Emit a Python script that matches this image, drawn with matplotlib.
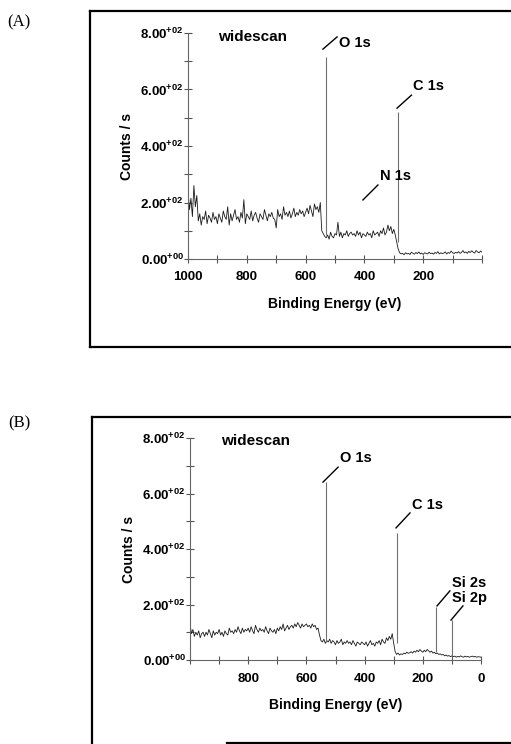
import numpy as np
import matplotlib
matplotlib.use("Agg")
import matplotlib.pyplot as plt
from matplotlib.ticker import MultipleLocator, FixedLocator, FuncFormatter
from matplotlib.lines import Line2D

plt.rcParams['font.family'] = ['Liberation Sans', 'DejaVu Sans']
plt.rcParams['mathtext.fontset'] = 'custom'
plt.rcParams['mathtext.bf'] = 'Liberation Sans:bold'
plt.rcParams['mathtext.rm'] = 'Liberation Sans'

# binding energy grid, 1000 -> 0 eV in 5 eV steps
be = np.arange(1000, -1, -5)

# panel A: widescan background counts
counts_a = [
    240, 175, 215, 150, 260, 185, 225,
    135, 160, 120, 150, 140, 170, 125, 155, 145, 130, 165, 140, 150, 125,
    160, 145, 130, 170, 150, 140, 185, 120, 160, 135, 155, 175, 140, 150, 130, 165, 145, 210, 125, 160,
    150, 140, 170, 135, 155, 165, 145, 130, 160, 150, 140, 175, 155, 135, 160, 150, 165, 145, 140, 110,
    175, 150, 160, 140, 185, 155, 165, 150, 170, 145, 160, 180, 150, 165, 155, 175, 160, 170, 150, 165,
    180, 160, 190, 170, 150, 195, 175, 185, 165, 200,
    100, 90, 80, 75, 85, 70, 95, 80, 75, 90,
    85, 130, 80, 95, 75, 90, 85, 100, 80, 90,
    95, 85, 90, 80, 100, 85, 95, 75, 90, 85,
    80, 95, 85, 90, 75, 100, 85, 90, 95, 80,
    100, 90, 110, 85, 95, 120, 100, 115, 90, 105, 85, 60,
    35, 22, 18, 20, 15, 22, 18, 20, 16, 24,
    20, 17, 23, 19, 25, 18, 21, 16, 22, 20,
    18, 24, 19, 21, 17, 23, 20, 26, 18, 22,
    19, 21, 25, 18, 23, 20, 28, 22, 19, 24,
    21, 26, 20, 23, 30, 22, 25, 20, 27, 23,
    29, 24, 21, 30, 25, 22, 28, 24,
]
peak_be_a = [532, 287]
peak_base_a = [85, 60]
peak_top_a = [715, 520]

# panel B
counts_b = [
    130, 95, 110, 85, 100, 90, 105, 80, 95, 100,
    85, 100, 90, 110, 95, 80, 105, 90, 100, 95,
    110, 90, 100, 85, 105, 95, 90, 115, 100, 105,
    95, 110, 100, 120, 105, 95, 115, 100, 110, 105,
    115, 100, 120, 105, 95, 125, 110, 100, 115, 105,
    110, 100, 120, 105, 95, 115, 105, 100, 110, 95,
    115, 105, 120, 110, 130, 105, 115, 125, 110, 120,
    125, 115, 130, 120, 135, 125, 115, 130, 120, 125,
    130, 120, 125, 115, 130, 120, 125, 110, 115,
    90, 70, 65, 75, 60, 70, 65, 75, 60, 70,
    65, 55, 70, 60, 65, 75, 55, 65, 60, 70,
    60, 65, 55, 70, 60, 50, 65, 60, 55, 65,
    60, 55, 65, 50, 60, 70, 55, 60, 50, 65,
    60, 70, 55, 75, 65, 60, 80, 70, 85, 75, 95, 60,
    30, 20, 25, 18, 22, 20, 25, 22, 28, 24,
    26, 30, 25, 32, 28, 35, 30, 38, 32, 28,
    35, 30, 38, 33, 28, 32, 25, 28, 22, 25,
    20, 22, 18, 20, 15, 18, 14, 16, 12, 15,
    12, 14, 10, 13, 11, 15, 12, 10, 14, 11,
    13, 10, 12, 14, 11, 13, 10, 12, 11, 10,
]
peak_be_b = [532, 288, 155, 100]
peak_base_b = [65, 60, 30, 15]
peak_top_b = [641, 458, 190, 145]

# labels: (text, text_x, text_y, line_x0, line_y0, line_x1, line_y1)
labels_a = [
    ("O 1s", 485, 765, 541, 743, 493, 786),
    ("C 1s", 236, 612, 289, 534, 240, 580),
    ("N 1s", 348, 294, 405, 209, 354, 262),
]
labels_b = [
    ("O 1s", 486, 728, 543, 641, 491, 695),
    ("C 1s", 238, 559, 292, 476, 244, 530),
    ("Si 2s", 101, 277, 151, 195, 107, 249),
    ("Si 2p", 101, 223, 103, 144, 62, 195),
]

W, H = 511, 744
fig = plt.figure(figsize=(W / 100, H / 100), dpi=100)


def ylab(v, pos):
    if v == 0:
        return r"0.00$^{\mathbf{+00}}$"
    return f"{v / 100:.2f}" + r"$^{\mathbf{+02}}$"


def make_panel(rect, counts, pk_be, pk_base, pk_top, labels, xticks, wide_xy):
    ax = fig.add_axes(rect)
    ax.plot(be, counts, color='#1a1a1a', lw=0.6)
    ax.vlines(pk_be, pk_base, pk_top, color='#707070', lw=0.8)
    ax.set_xlim(1000, 0)
    ax.set_ylim(0, 800)
    for s in ['top', 'right']:
        ax.spines[s].set_visible(False)
    for s in ['left', 'bottom']:
        ax.spines[s].set_color('#666666')
        ax.spines[s].set_linewidth(0.8)
    ax.xaxis.set_major_locator(FixedLocator(xticks))
    ax.xaxis.set_minor_locator(MultipleLocator(100))
    ax.yaxis.set_major_locator(MultipleLocator(200))
    ax.yaxis.set_minor_locator(MultipleLocator(100))
    ax.yaxis.set_major_formatter(FuncFormatter(ylab))
    ax.tick_params(which='both', direction='inout', length=6, width=0.8, color='#555555')
    ax.tick_params(axis='x', pad=6, labelsize=9.5)
    ax.tick_params(axis='y', pad=0, labelsize=9.5)
    for t in ax.get_xticklabels() + ax.get_yticklabels():
        t.set_fontweight('bold')
    ax.set_xlabel("Binding Energy (eV)", fontsize=10, fontweight='bold', labelpad=10)
    ax.set_ylabel("Counts / s", fontsize=10, fontweight='bold', labelpad=5)
    ax.text(wide_xy[0], wide_xy[1], "widescan", fontsize=11, fontweight='bold',
            ha='left', va='center')
    for txt, tx, ty, x0, y0, x1, y1 in labels:
        ax.plot([x0, x1], [y0, y1], color='black', lw=1.0)
        ax.text(tx, ty, txt, fontsize=10.5, fontweight='bold', ha='left', va='center')
    return ax


make_panel([188 / W, 1 - 259 / H, 294 / W, 226 / H], counts_a, peak_be_a, peak_base_a,
           peak_top_a, labels_a, [1000, 800, 600, 400, 200], (898, 786))
make_panel([190 / W, 1 - 660 / H, 291 / W, 222 / H], counts_b, peak_be_b, peak_base_b,
           peak_top_b, labels_b, [800, 600, 400, 200, 0], (893, 789))

# frames around the panels (pixel coords from top-left)
def fline(xs, ys, lw=1.6):
    fig.add_artist(Line2D([x / W for x in xs], [1 - y / H for y in ys],
                          color='black', lw=lw, transform=fig.transFigure))

fline([90, 515], [11, 11])
fline([90, 90], [11, 347])
fline([90, 515], [347, 347])
fline([92, 515], [417, 417])
fline([92, 92], [417, 745])
fline([227, 515], [743, 743])

fig.text(7 / W, 1 - 22 / H, "(A)", family='Liberation Serif', fontsize=12, va='center')
fig.text(8 / W, 1 - 423 / H, "(B)", family='Liberation Serif', fontsize=12, va='center')

fig.savefig("out.png", dpi=100)
